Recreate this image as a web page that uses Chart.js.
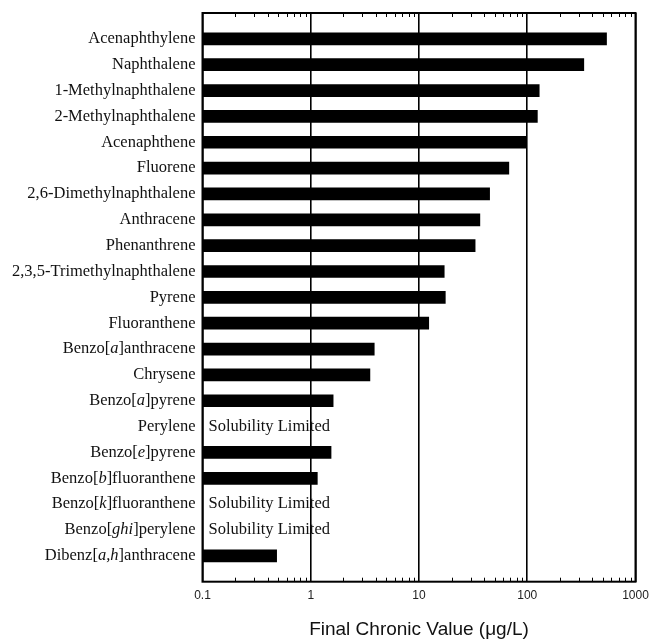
<!DOCTYPE html>
<html>
<head>
<meta charset="utf-8">
<title>Final Chronic Values of PAHs</title>
<script src="https://cdn.jsdelivr.net/npm/chart.js@4.4.1/dist/chart.umd.min.js"></script>
<style>
  html, body { margin: 0; padding: 0; background: #fff; }
  #wrap { width: 653px; height: 639px; }
</style>
</head>
<body>
<div id="wrap"><canvas id="chart" width="653" height="639"></canvas></div>
<script>
// Compounds, top to bottom; text between asterisks is set in italics.
const categories = [
  'Acenaphthylene', 'Naphthalene', '1-Methylnaphthalene', '2-Methylnaphthalene',
  'Acenaphthene', 'Fluorene', '2,6-Dimethylnaphthalene', 'Anthracene',
  'Phenanthrene', '2,3,5-Trimethylnaphthalene', 'Pyrene', 'Fluoranthene',
  'Benzo[*a*]anthracene', 'Chrysene', 'Benzo[*a*]pyrene', 'Perylene',
  'Benzo[*e*]pyrene', 'Benzo[*b*]fluoranthene', 'Benzo[*k*]fluoranthene',
  'Benzo[*ghi*]perylene', 'Dibenz[*a,h*]anthracene'
];

// Final chronic values in µg/L; null = no value (solubility limited).
const chronicValues = [
  540, 333, 129, 124, 98.5, 67.6, 44.9, 36.5, 33.0, 17.1, 17.5, 12.3,
  3.86, 3.52, 1.61, null, 1.54, 1.15, null, null, 0.484
];

const noValueNote = 'Solubility Limited';

const tickValues = [0.1, 1, 10, 100, 1000];
const tickLabels = ['0.1', '1', '10', '100', '1000'];
const axisTitle = 'Final Chronic Value (\u03bcg/L)';

const SERIF = '"Liberation Serif", "Times New Roman", serif';
const SANS = '"Liberation Sans", Arial, Helvetica, sans-serif';
const LABEL_SIZE = 16.5;

// An empty slot above and below the compounds leaves a full row of space at each end.
const rowLabels = [''].concat(categories, ['']);
const rowValues = [null].concat(chronicValues, [null]);

function isDecade(v) {
  const l = Math.log10(v);
  return Math.abs(l - Math.round(l)) < 1e-9;
}

// Category names with italic parts, right-aligned against the frame,
// plus the note for compounds without a value.
const namePlugin = {
  id: 'namePlugin',
  afterDraw(chart) {
    const ctx = chart.ctx;
    const y = chart.scales.y;
    const area = chart.chartArea;
    ctx.save();
    ctx.fillStyle = '#111';
    ctx.textBaseline = 'middle';
    categories.forEach((name, i) => {
      const py = y.getPixelForValue(i + 1);
      const parts = name.split('*');
      const fonts = parts.map((p, k) => (k % 2 ? 'italic ' : '') + LABEL_SIZE + 'px ' + SERIF);
      let total = 0;
      parts.forEach((p, k) => { ctx.font = fonts[k]; total += ctx.measureText(p).width; });
      let x = area.left - 7 - total;
      ctx.textAlign = 'left';
      parts.forEach((p, k) => {
        ctx.font = fonts[k];
        ctx.fillText(p, x, py);
        x += ctx.measureText(p).width;
      });
      if (chronicValues[i] === null) {
        ctx.font = LABEL_SIZE + 'px ' + SERIF;
        ctx.fillText(noValueNote, area.left + 6, py);
      }
    });
    ctx.restore();
  }
};

// Frame around the plot and short inward minor ticks on top and bottom edges.
const framePlugin = {
  id: 'framePlugin',
  afterDatasetsDraw(chart) {
    const ctx = chart.ctx;
    const a = chart.chartArea;
    const xs = chart.scales.x;
    ctx.save();
    ctx.strokeStyle = '#000';
    ctx.lineWidth = 1;
    xs.ticks.forEach(t => {
      if (isDecade(t.value)) return;
      const px = Math.round(xs.getPixelForValue(t.value)) + 0.5;
      ctx.beginPath();
      ctx.moveTo(px, a.top); ctx.lineTo(px, a.top + 4);
      ctx.moveTo(px, a.bottom); ctx.lineTo(px, a.bottom - 4);
      ctx.stroke();
    });
    ctx.lineWidth = 2;
    ctx.strokeRect(a.left, a.top, a.right - a.left, a.bottom - a.top);
    ctx.restore();
  }
};

new Chart(document.getElementById('chart'), {
  type: 'bar',
  data: {
    labels: rowLabels,
    datasets: [{
      data: rowValues,
      backgroundColor: '#000',
      borderWidth: 0,
      barThickness: 12
    }]
  },
  options: {
    responsive: false,
    animation: false,
    indexAxis: 'y',
    layout: { padding: { top: 13, right: 17.5, bottom: 0, left: 0 } },
    plugins: {
      legend: { display: false },
      tooltip: { enabled: false }
    },
    scales: {
      y: {
        type: 'category',
        offset: false,
        grid: { display: false },
        border: { display: false },
        ticks: { display: false },
        afterFit(s) { s.width = 202.5; }
      },
      x: {
        type: 'logarithmic',
        min: 0.1,
        max: 1000,
        afterBuildTicks(s) {
          const ticks = [];
          for (let e = -1; e <= 2; e++) {
            for (let m = 1; m <= 9; m++) ticks.push({ value: m * Math.pow(10, e) });
          }
          ticks.push({ value: 1000 });
          s.ticks = ticks;
        },
        afterFit(s) {
          s.height = 57.3;
          s.paddingLeft = 0;
          s.paddingRight = 0;
        },
        border: { display: false },
        grid: {
          drawTicks: false,
          lineWidth: 1.6,
          color: c => (c.tick && isDecade(c.tick.value)) ? '#000' : 'rgba(0,0,0,0)'
        },
        ticks: {
          autoSkip: false,
          maxRotation: 0,
          padding: 7,
          color: '#222',
          font: { family: SANS, size: 12 },
          callback(v) {
            const i = tickValues.findIndex(t => Math.abs(t - v) < 1e-9 * Math.max(1, t));
            return i >= 0 ? tickLabels[i] : '';
          }
        },
        title: {
          display: true,
          text: axisTitle,
          color: '#111',
          font: { family: SANS, size: 19, lineHeight: 0.95 },
          padding: { top: 0, bottom: 0 }
        }
      }
    }
  },
  plugins: [namePlugin, framePlugin]
});
</script>
</body>
</html>
